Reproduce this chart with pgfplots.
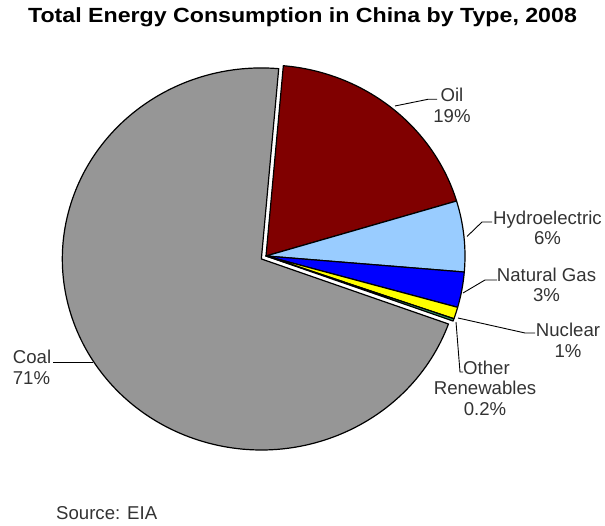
\documentclass[border=0pt]{standalone}
\usepackage{pgfplots}
\usepackage{pgfplotstable}
\pgfplotsset{compat=1.18}
\usepackage{fontspec}
\setmainfont{Liberation Sans}
\definecolor{oilred}{HTML}{800000}
\definecolor{hydroblue}{HTML}{99CCFF}
\definecolor{gasblue}{HTML}{0000FF}
\definecolor{nucyellow}{HTML}{FFFF00}
\definecolor{othergreen}{HTML}{339966}
\definecolor{coalgray}{HTML}{969696}
\definecolor{labelgray}{HTML}{333333}

% share of total energy consumption (%), clockwise from the top; explode in px
\pgfplotstableread{
label value colour explode
Oil 19 oilred 0
Hydroelectric 6 hydroblue 0
NaturalGas 3 gasblue 0
Nuclear 1 nucyellow 0
OtherRenewables 0.2 othergreen 0
Coal 71 coalgray 5.5
}\energydata

\begin{document}
\begin{tikzpicture}
\begin{axis}[
  scale only axis, width=605pt, height=526pt,
  xmin=0, xmax=605, ymin=0, ymax=526,
  hide axis, clip=false]
\pgfplotsextra{
  \path (axis cs:0,0) rectangle (axis cs:605,526);
  \pgfplotstablegetrowsof{\energydata}
  \pgfmathtruncatemacro\nrows{\pgfplotsretval-1}
  \xdef\cum{0}
  \pgfmathsetmacro\degper{360/100.2}
  \foreach \i in {0,...,\nrows}{
    \pgfplotstablegetelem{\i}{value}\of\energydata \let\val\pgfplotsretval
    \pgfplotstablegetelem{\i}{colour}\of\energydata \let\col\pgfplotsretval
    \pgfplotstablegetelem{\i}{explode}\of\energydata \let\ex\pgfplotsretval
    \pgfmathsetmacro\astart{85-\cum*\degper}
    \pgfmathsetmacro\aend{85-(\cum+\val)*\degper}
    \pgfmathsetmacro\amid{(\astart+\aend)/2}
    \pgfmathsetmacro\ccx{266+\ex*cos(\amid)}
    \pgfmathsetmacro\ccy{270+\ex*sin(\amid)}
    \pgfmathsetmacro\sx{\ccx+199*cos(\astart)}
    \pgfmathsetmacro\sy{\ccy+191*sin(\astart)}
    \filldraw[fill=\col, draw=black, line width=1.2pt, line join=round]
      (axis cs:\ccx,\ccy) -- (axis cs:\sx,\sy)
      arc[start angle=\astart, end angle=\aend, x radius=199pt, y radius=191pt] -- cycle;
    \pgfmathsetmacro\newcum{\cum+\val}
    \xdef\cum{\newcum}
  }
  % leader lines
  \draw[black, line width=0.9pt] (axis cs:395,420) -- (axis cs:428,426.7) -- (axis cs:437,426.7);
  \draw[black, line width=0.9pt] (axis cs:467,289.5) -- (axis cs:482,304) -- (axis cs:492,304);
  \draw[black, line width=0.9pt] (axis cs:463,233) -- (axis cs:485,246) -- (axis cs:497,246);
  \draw[black, line width=0.9pt] (axis cs:458,208) -- (axis cs:525,193) -- (axis cs:535,193);
  \draw[black, line width=0.9pt] (axis cs:456,204) -- (axis cs:460,154) -- (axis cs:463,154);
  \draw[black, line width=0.9pt] (axis cs:53,164) -- (axis cs:93,164);
  % labels
  \begingroup
  \fontsize{18.6}{20.5}\selectfont
  \node[text=labelgray, align=center, inner sep=0pt] at (axis cs:452,420.5) {Oil\\19\%};
  \node[text=labelgray, align=center, inner sep=0pt] at (axis cs:547.5,298) {Hydroelectric\\6\%};
  \node[text=labelgray, align=center, inner sep=0pt] at (axis cs:546.5,241) {Natural Gas\\3\%};
  \node[text=labelgray, align=center, inner sep=0pt] at (axis cs:568,185.5) {Nuclear\\1\%};
  \node[text=labelgray, align=center, inner sep=0pt] at (axis cs:485,138) {\hspace*{3pt}Other\\Renewables\\0.2\%};
  \node[text=labelgray, align=left, anchor=west, inner sep=0pt] at (axis cs:12.7,158.5) {Coal\\71\%};
  \node[text=labelgray, anchor=west, inner sep=0pt] at (axis cs:56,13.3) {Source: EIA};
  \endgroup
  \node[font=\bfseries\fontsize{20.5}{24}\selectfont, xscale=1.13, inner sep=0pt] at (axis cs:302.5,508.6)
    {Total Energy Consumption in China by Type, 2008};
}
\end{axis}
\end{tikzpicture}
\end{document}
